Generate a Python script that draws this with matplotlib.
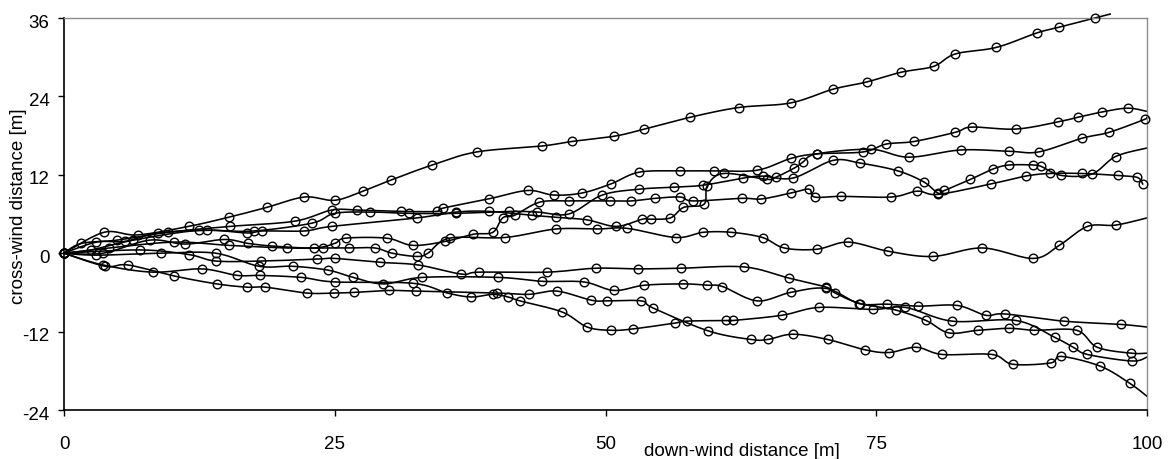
import numpy as np
import matplotlib
matplotlib.use('Agg')
import matplotlib.pyplot as plt
import matplotlib.transforms as mtransforms

plt.rcParams['font.family'] = ['Liberation Sans', 'DejaVu Sans']
plt.rcParams['axes.unicode_minus'] = False

# trajectories (down-wind x, cross-wind y, metres)
a_x = [0, 3.7, 6.8, 11.5, 15.2, 18.7, 22.2, 25.0, 27.6, 30.2, 34.0, 38.1, 44.1, 46.9, 50.8, 53.6, 57.8, 62.3,
       67.1, 71.0, 74.1, 77.3, 80.3, 82.3, 86.1, 89.8, 91.9, 95.2, 96.6]
a_y = [0, 3.2, 2.8, 4.1, 5.5, 7.0, 8.6, 8.1, 9.5, 11.2, 13.5, 15.5, 16.4, 17.1, 17.9, 19.0, 20.8, 22.3,
       23.0, 25.1, 26.2, 27.7, 28.6, 30.5, 31.5, 33.7, 34.6, 36.0, 36.6]

b_x = [0, 1.6, 4.9, 9.6, 15.3, 21.3, 24.7, 27.1, 31.1, 34.4, 35.0, 39.2, 42.8, 45.2, 47.8, 50.5, 53.1, 56.9,
       60.0, 64.0, 67.1, 69.5, 73.8, 75.9, 78.5, 82.3, 83.8, 87.9, 91.8, 93.6, 95.8, 98.2, 100]
b_y = [0, 1.5, 2.0, 3.2, 4.1, 4.9, 6.6, 6.6, 6.4, 6.4, 6.9, 8.3, 9.6, 8.9, 9.2, 10.6, 12.4, 12.6,
       12.6, 12.7, 14.5, 15.2, 15.5, 16.7, 17.1, 18.5, 19.3, 19.0, 20.1, 20.8, 21.6, 22.2, 21.7]

c_x = [0, 2.5, 6.4, 12.5, 16.9, 18.3, 22.2, 24.7, 32.6, 36.2, 39.2, 43.2, 45.4, 48.3, 51.0, 53.4, 54.2, 56.0,
       57.2, 59.1, 59.4, 60.9, 64.9, 65.7, 67.4, 68.2, 69.5, 74.5, 78.0, 82.8, 87.3, 90.0, 94.0, 96.5, 99.8, 100]
c_y = [0, 0.5, 2.0, 3.5, 3.1, 3.4, 3.4, 4.1, 5.4, 6.3, 6.4, 5.8, 5.5, 5.1, 4.1, 5.2, 5.2, 5.4,
       7.0, 7.5, 10.3, 12.2, 11.3, 11.6, 13.0, 13.9, 15.2, 15.9, 14.7, 15.8, 15.6, 15.5, 17.6, 18.5, 20.5, 20.8]

d_x = [0, 3.0, 5.6, 8.7, 13.2, 17.5, 22.9, 25.0, 28.3, 31.9, 36.2, 41.1, 43.7, 46.6, 49.7, 53.1, 56.3, 59.0,
       62.7, 64.5, 67.3, 71.0, 73.5, 77.0, 79.4, 80.7, 81.3, 83.7, 85.8, 87.3, 89.5, 90.2, 92.1, 94.9, 97.1, 100]
d_y = [0, 1.7, 1.8, 3.1, 3.5, 3.4, 4.6, 6.1, 6.3, 6.1, 6.1, 6.4, 6.3, 6.0, 8.9, 9.8, 10.1, 10.4,
       11.5, 11.8, 11.5, 14.2, 13.8, 12.6, 10.9, 9.2, 9.6, 11.3, 12.9, 13.5, 13.5, 13.3, 11.9, 12.1, 14.8, 16.1]

e_x = [0, 3.6, 7.9, 11.2, 14.8, 17.0, 19.2, 23.1, 25.0, 26.0, 29.8, 32.2, 35.2, 37.8, 39.6, 40.5, 41.6, 43.9,
       46.6, 50.4, 52.4, 54.6, 56.9, 58.1, 62.6, 64.4, 67.1, 68.8, 69.3, 71.7, 76.4, 78.8, 80.7, 85.6, 88.8,
       91.0, 94.0, 97.3, 99.1, 99.6]
e_y = [0, 0.0, 2.0, 1.4, 2.1, 1.5, 1.1, 0.8, 1.5, 2.3, 2.3, 1.2, 1.8, 2.9, 3.2, 5.4, 5.8, 7.8,
       8.0, 8.0, 8.0, 8.4, 8.6, 8.0, 8.4, 8.3, 9.2, 9.8, 8.6, 8.7, 8.6, 9.5, 9.0, 10.6, 11.8,
       12.2, 12.2, 11.9, 11.6, 10.6]

f_x = [0, 4.2, 10.2, 15.2, 20.6, 23.9, 26.3, 28.7, 30.3, 32.6, 33.6, 35.6, 40.7, 45.4, 49.2, 52.0, 56.5, 59.0,
       61.6, 64.5, 66.5, 69.5, 72.4, 76.1, 80.2, 84.8, 89.5, 91.9, 94.5, 97.1, 100]
f_y = [0, 0.8, 1.7, 1.2, 0.8, 0.8, 0.8, 0.8, 0.0, -0.5, 0.0, 2.3, 2.4, 3.7, 3.7, 3.8, 2.4, 3.2,
       3.2, 2.4, 0.8, 0.6, 1.7, 0.3, -0.5, 0.8, -0.8, 1.2, 4.1, 4.3, 5.4]

g_x = [0, 3.0, 9.0, 14.0, 18.0, 21.1, 24.4, 26.7, 29.5, 33.1, 40.1, 44.1, 48.0, 50.8, 53.6, 57.2, 59.4, 60.8,
       64.0, 67.1, 70.4, 73.4, 76.0, 78.9, 82.5, 85.1, 86.9, 92.3, 97.6, 100]
g_y = [0, -0.3, 0.0, 0.0, -2.0, -2.0, -2.6, -3.7, -4.7, -3.7, -3.7, -4.3, -4.4, -5.7, -4.9, -4.7, -4.9, -5.1,
       -7.3, -6.0, -5.4, -7.7, -7.8, -8.1, -8.0, -9.5, -9.3, -10.4, -10.9, -11.3]

h_x = [0, 7.0, 11.5, 14.0, 18.2, 23.4, 25.0, 29.2, 32.7, 36.7, 38.3, 44.6, 49.1, 53.0, 57.0, 62.8, 66.9, 70.4,
       71.2, 73.5, 76.8, 79.6, 81.7, 84.4, 87.3, 89.6, 93.5, 95.4, 98.5, 100]
h_y = [0, 0.5, -0.2, -1.2, -1.2, -0.9, -0.8, -1.4, -1.8, -3.2, -2.9, -2.9, -2.3, -2.4, -2.3, -2.1, -3.8, -5.2,
       -6.1, -7.7, -8.7, -10.3, -12.2, -11.8, -11.5, -11.8, -11.8, -14.4, -15.3, -15.3]

i_x = [0, 3.6, 8.2, 12.7, 16.0, 18.1, 21.9, 25.0, 32.2, 35.4, 37.6, 39.6, 41.0, 42.1, 46.0, 48.3, 50.5, 52.5,
       56.4, 57.5, 61.1, 61.8, 66.3, 69.7, 74.7, 77.7, 82.0, 87.9, 91.5, 93.2, 94.5, 98.6, 100]
i_y = [0, -1.8, -2.9, -2.4, -3.4, -3.4, -3.7, -4.4, -4.6, -6.1, -6.7, -6.3, -6.7, -7.3, -9.0, -11.3, -11.8, -11.6,
       -10.7, -10.4, -10.3, -10.3, -9.5, -8.3, -8.6, -8.3, -10.4, -10.3, -12.9, -14.4, -15.5, -16.5, -15.9]

j_x = [0, 3.8, 5.9, 10.2, 14.1, 16.9, 18.6, 22.4, 24.9, 26.8, 30.0, 32.5, 40.0, 42.9, 45.5, 48.7, 50.1, 53.3,
       54.4, 59.5, 63.4, 65.0, 67.3, 70.5, 74.0, 76.2, 78.7, 81.1, 85.7, 87.6, 91.1, 92.1, 95.7, 98.4, 100]
j_y = [0, -2.0, -1.8, -3.5, -4.7, -5.2, -5.2, -6.1, -6.1, -6.0, -5.7, -5.8, -6.1, -6.3, -5.8, -7.2, -7.3, -7.3,
       -8.4, -11.9, -13.2, -13.2, -12.4, -13.2, -14.8, -15.2, -14.4, -15.5, -15.5, -17.0, -16.8, -15.8, -17.3, -19.9, -21.9]

trajectories = [(a_x, a_y), (b_x, b_y), (c_x, c_y), (d_x, d_y), (e_x, e_y),
                (f_x, f_y), (g_x, g_y), (h_x, h_y), (i_x, i_y), (j_x, j_y)]
# last point is only where the curve leaves the plot (no marker), except line e
open_end = [True, True, True, True, False, True, True, True, True, True]


def smooth(x, y, n=16):
    # Catmull-Rom curve through the points (like Excel "smoothed line")
    p = np.column_stack([x, y]).astype(float)
    p = np.vstack([p[0], p, p[-1]])
    t = np.linspace(0, 1, n, endpoint=False)[:, None]
    out = []
    for k in range(1, len(p) - 2):
        p0, p1, p2, p3 = p[k - 1], p[k], p[k + 1], p[k + 2]
        seg = 0.5 * (2 * p1 + (-p0 + p2) * t + (2 * p0 - 5 * p1 + 4 * p2 - p3) * t ** 2
                     + (-p0 + 3 * p1 - 3 * p2 + p3) * t ** 3)
        out.append(seg)
    out.append(p[-2][None])
    return np.vstack(out)


fig = plt.figure(figsize=(11.7, 4.59), dpi=100)
ax = fig.add_axes([64 / 1170, 1 - 410 / 459, 1083 / 1170, 392 / 459])

for (xs, ys), op in zip(trajectories, open_end):
    curve = smooth(xs, ys)
    ax.plot(curve[:, 0], curve[:, 1], color='black', lw=1.15, clip_on=False, zorder=2)
    m = len(xs) - 1 if op else len(xs)
    ax.plot(xs[:m], ys[:m], linestyle='none', marker='o', ms=6.2, mfc='none', mec='black',
            mew=1.0, clip_on=False, zorder=3)

ax.set_xlim(0, 100)
ax.set_ylim(-24, 36)
ax.set_xticks([0, 25, 50, 75, 100])
ax.set_yticks([-24, -12, 0, 12, 24, 36])
ax.tick_params(direction='out', length=4.5, width=1, labelsize=13.5, colors='black')
ax.tick_params(axis='x', pad=14)
ax.tick_params(axis='y', pad=6)
# y tick labels sit a few pixels below their ticks in the original
shift = mtransforms.ScaledTranslation(0, -3 / 100, fig.dpi_scale_trans)
for lab in ax.get_yticklabels():
    lab.set_transform(lab.get_transform() + shift)
for s in ['left', 'bottom']:
    ax.spines[s].set_color('black')
    ax.spines[s].set_linewidth(1.2)
for s in ['top', 'right']:
    ax.spines[s].set_color('#8c8c8c')
    ax.spines[s].set_linewidth(1.0)

fig.text(19 / 1170, 1 - 206 / 459, 'cross-wind distance [m]', rotation=90,
         ha='center', va='center', fontsize=13.5)
fig.text(742 / 1170, 1 - 451 / 459, 'down-wind distance [m]', ha='center', va='center', fontsize=13.5)

fig.savefig('out.png', dpi=100)
